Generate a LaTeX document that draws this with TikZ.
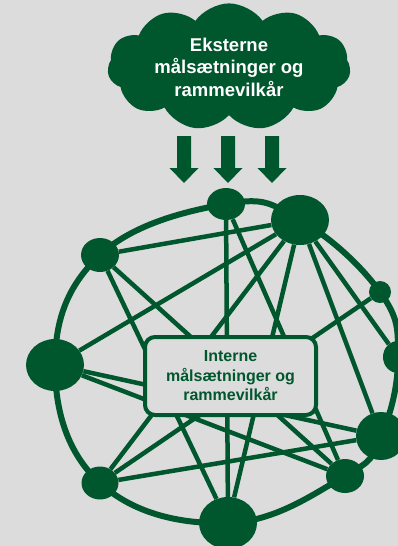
\documentclass[tikz,border=0pt]{standalone}
\usepackage{fontspec}
\setmainfont{Liberation Sans}
\usetikzlibrary{shapes.geometric,shapes.symbols,backgrounds}
\definecolor{dkgreen}{RGB}{0,87,46}
\definecolor{bggray}{RGB}{220,220,220}
\begin{document}
\begin{tikzpicture}[x=1pt,y=-1pt,
  dot/.style={ellipse,fill=dkgreen,inner sep=0pt},
  link/.style={draw=dkgreen,line width=4.5pt},
  ringline/.style={draw=dkgreen,line width=6pt},
  extcloud/.style={cloud,cloud puffs=11,cloud puff arc=110,aspect=2.1,fill=dkgreen,
    text=white,align=center,inner sep=0pt,minimum width=243pt,minimum height=110pt,
    font=\fontsize{18.5}{22.5}\selectfont\bfseries},
  intbox/.style={rectangle,rounded corners=10pt,draw=dkgreen,line width=4pt,fill=bggray,
    text=dkgreen,align=center,minimum width=171pt,minimum height=78pt,inner sep=0pt,
    font=\fontsize{16}{19.5}\selectfont\bfseries},
  downarrow/.pic={\fill[dkgreen] (-7,0) -- (7,0) -- (7,32) -- (14.5,32) -- (0,47)
    -- (-14.5,32) -- (-7,32) -- cycle;}]
\useasboundingbox (0,0) rectangle (398,546);
% cloud and arrows
\node[extcloud] (ext) at (229,67) {Eksterne\\målsætninger og\\rammevilkår};
\pic at (184,136) {downarrow};
\pic at (228,136) {downarrow};
\pic at (272,136) {downarrow};
% network nodes
\node[dot,minimum width=38pt,minimum height=32pt] (A) at (226,204) {};
\node[dot,minimum width=58pt,minimum height=50pt] (B) at (300,220) {};
\node[dot,minimum width=38pt,minimum height=34pt] (C) at (100,255) {};
\node[dot,minimum width=22pt,minimum height=22pt] (D) at (380,292) {};
\node[dot,minimum width=58pt,minimum height=52pt] (E) at (55,365) {};
\node[dot,minimum width=30pt,minimum height=32pt] (F) at (398,357) {};
\node[dot,minimum width=50pt,minimum height=48pt] (G) at (381,436) {};
\node[dot,minimum width=38pt,minimum height=34pt] (H) at (345,476) {};
\node[dot,minimum width=37pt,minimum height=33pt] (I) at (100,483) {};
\node[dot,minimum width=58pt,minimum height=52pt] (J) at (228,523) {};
\node[intbox] (int) at (230.5,376) {Interne\\målsætninger og\\rammevilkår};
\begin{scope}[on background layer]
  \fill[bggray] (0,0) rectangle (398,546);
  \draw[ringline] plot[smooth cycle,tension=0.7] coordinates {(A.center) (B.center) (D.center) (F.center) (G.center) (H.center) (J.center) (I.center) (E.center) (C.center)};
  \draw[link] (B) -- (C);
  \draw[link] (B) -- (E);
  \draw[link] (B) -- (I);
  \draw[link] (B) -- (J);
  \draw[link] (B) -- (G);
  \draw[link] (B) -- (F);
  \draw[link] (A) -- (J);
  \draw[link] (A) -- (H);
  \draw[link] (C) -- (H);
  \draw[link] (C) -- (J);
  \draw[link] (D) -- (I);
  \draw[link] (E) -- (G);
  \draw[link] (E) -- (H);
  \draw[link] (I) -- (G);
\end{scope}
\end{tikzpicture}
\end{document}
